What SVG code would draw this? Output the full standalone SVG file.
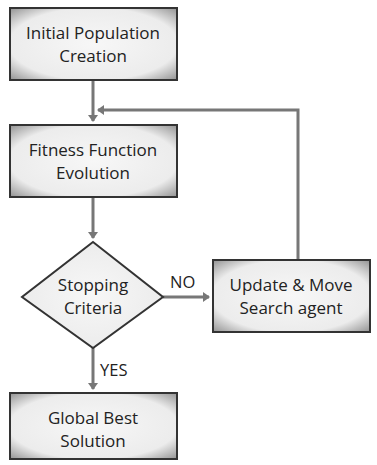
<svg xmlns="http://www.w3.org/2000/svg" width="377" height="465" viewBox="0 0 377 465">
  <style>
    .box { fill: url(#boxFill); stroke: #333; stroke-width: 2; }
    .label { font-family: "Open Sans", "DejaVu Sans", sans-serif; font-size: 17px; fill: #222; text-anchor: middle; }
    .tag { font-family: "Open Sans", "DejaVu Sans", sans-serif; font-size: 16.5px; fill: #222; }
    .wire { fill: none; stroke: #777; stroke-width: 3; }
  </style>
  <defs>
    <radialGradient id="boxFill" cx="50%" cy="50%" r="72%">
      <stop offset="0" stop-color="#f7f7f7"/>
      <stop offset="0.7" stop-color="#ececec"/>
      <stop offset="1" stop-color="#8c8c8c"/>
    </radialGradient>
    <marker id="arrow" markerWidth="10" markerHeight="10" refX="6" refY="5" orient="auto" markerUnits="userSpaceOnUse">
      <path d="M0,0 L7,5 L0,10 Z" fill="#777"/>
    </marker>
  </defs>

  <g id="connectors">
    <path class="wire" d="M93,80 V121" marker-end="url(#arrow)"/>
    <path class="wire" d="M298,260 V110 H98" marker-end="url(#arrow)"/>
    <path class="wire" d="M93,197 V238" marker-end="url(#arrow)"/>
    <path class="wire" d="M163,297 H209" marker-end="url(#arrow)"/>
    <path class="wire" d="M93,348 V389" marker-end="url(#arrow)"/>
    <text class="tag" x="170" y="288">NO</text>
    <text class="tag" x="100" y="376">YES</text>
  </g>

  <g id="init">
    <rect class="box" x="10" y="8" width="167" height="72"/>
    <text class="label" x="93" y="39">Initial Population</text>
    <text class="label" x="93" y="62">Creation</text>
  </g>

  <g id="fitness">
    <rect class="box" x="10" y="125" width="167" height="72"/>
    <text class="label" x="93" y="156">Fitness Function</text>
    <text class="label" x="93" y="179">Evolution</text>
  </g>

  <g id="stopping">
    <polygon class="box" points="93,242 163,297 93,348 22,297"/>
    <text class="label" x="93" y="291">Stopping</text>
    <text class="label" x="93" y="314">Criteria</text>
  </g>

  <g id="update">
    <rect class="box" x="213" y="260" width="157" height="72"/>
    <text class="label" x="291" y="291">Update &amp; Move</text>
    <text class="label" x="291" y="314">Search agent</text>
  </g>

  <g id="best">
    <rect class="box" x="10" y="393" width="167" height="66"/>
    <text class="label" x="93" y="424">Global Best</text>
    <text class="label" x="93" y="447">Solution</text>
  </g>
</svg>
